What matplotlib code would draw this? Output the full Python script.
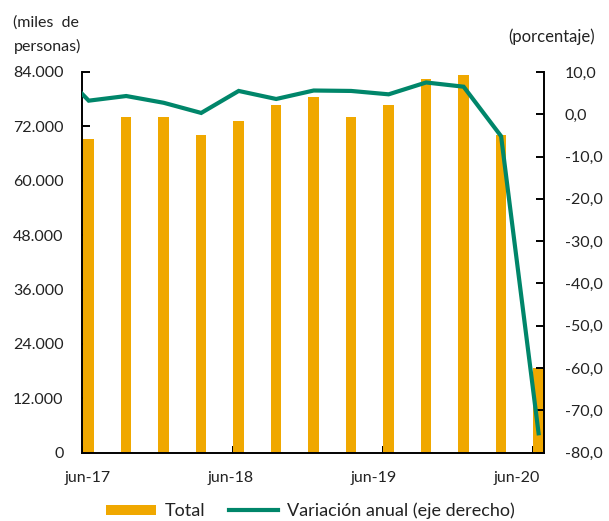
import numpy as np
import matplotlib.pyplot as plt
from matplotlib.ticker import FuncFormatter

plt.rcParams['font.family'] = ['Lato', 'DejaVu Sans']
TXT = '#222222'

# trimestres (el primero, mar-17, queda fuera del eje)
periodos = ['mar-17', 'jun-17', 'sep-17', 'dic-17', 'mar-18', 'jun-18', 'sep-18', 'dic-18',
            'mar-19', 'jun-19', 'sep-19', 'dic-19', 'mar-20', 'jun-20']
total = [None, 69200, 74000, 74000, 70100, 73100, 76700, 78400,
         74000, 76700, 82400, 83300, 70100, 18600]
variacion = [12.3, 3.2, 4.3, 2.7, 0.3, 5.5, 3.6, 5.6,
             5.5, 4.7, 7.5, 6.5, -5.2, -75.4]
etiquetas_x = ['jun-17', 'jun-18', 'jun-19', 'jun-20']

x = np.arange(len(periodos)) - 1
x_bar = x[1:]
y_bar = total[1:]

fig = plt.figure(figsize=(6.09, 5.21), dpi=100)
ax = fig.add_axes([0.134, 0.131, 0.759, 0.731])
ax2 = ax.twinx()

ax.bar(x_bar, y_bar, width=0.28, color='#f0a800', label='Total', zorder=2)
ax2.plot(x, variacion, color='#00866a', lw=3, label='Variación anual (eje derecho)',
         solid_joinstyle='miter', zorder=3)

ax.set_xlim(-0.19, 12.14)
ax.set_ylim(0, 84000)
ax2.set_ylim(-80, 10)
ax.set_yticks(np.arange(0, 84001, 12000))
ax2.set_yticks(np.arange(-80, 11, 10))
ax.yaxis.set_major_formatter(FuncFormatter(lambda v, p: f'{int(v):,}'.replace(',', '.')))
ax2.yaxis.set_major_formatter(FuncFormatter(lambda v, p: f'{v:.1f}'.replace('.', ',')))

# marcas en el borde izquierdo de la barra, textos algo desplazados
ax.set_xticks([-0.155, 3.845, 7.845, 11.845])
ax.set_xticklabels([])
ax.set_xticks([-0.02, 3.79, 7.6, 11.42], minor=True)
ax.set_xticklabels(etiquetas_x, minor=True)
ax.tick_params(axis='x', which='minor', length=0, pad=13, labelsize=11.5, colors=TXT)
ax.tick_params(axis='x', which='major', direction='in', length=5, width=1.4)

ax.tick_params(axis='y', direction='in', length=6, width=1.4, pad=13, labelsize=11.5,
               labelcolor=TXT)
ax2.tick_params(axis='y', direction='in', length=6, width=1.4, pad=15, labelsize=11.5,
                labelcolor=TXT)

for a in (ax, ax2):
    a.spines['top'].set_visible(False)
    for s in ('left', 'right', 'bottom'):
        a.spines[s].set_linewidth(1.4)
ax.spines['right'].set_visible(False)
ax2.spines['left'].set_visible(False)
ax2.spines['bottom'].set_visible(False)

fig.text(0.022, 1 - 23 / 521, '(miles  de', fontsize=11.5, color=TXT, va='center')
fig.text(0.022, 1 - 46 / 521, 'personas)', fontsize=11.5, color=TXT, va='center')
fig.text(0.835, 1 - 37 / 521, '(porcentaje)', fontsize=12, color=TXT, va='center')

h1, l1 = ax.get_legend_handles_labels()
h2, l2 = ax2.get_legend_handles_labels()
fig.legend(h1 + h2, l1 + l2, loc='lower center', bbox_to_anchor=(0.51, -0.028), ncol=2,
           frameon=False, fontsize=13, handlelength=2.75, handleheight=0.55,
           handletextpad=0.5, columnspacing=1.3, labelcolor=TXT)

fig.savefig('out.png', dpi=100)
